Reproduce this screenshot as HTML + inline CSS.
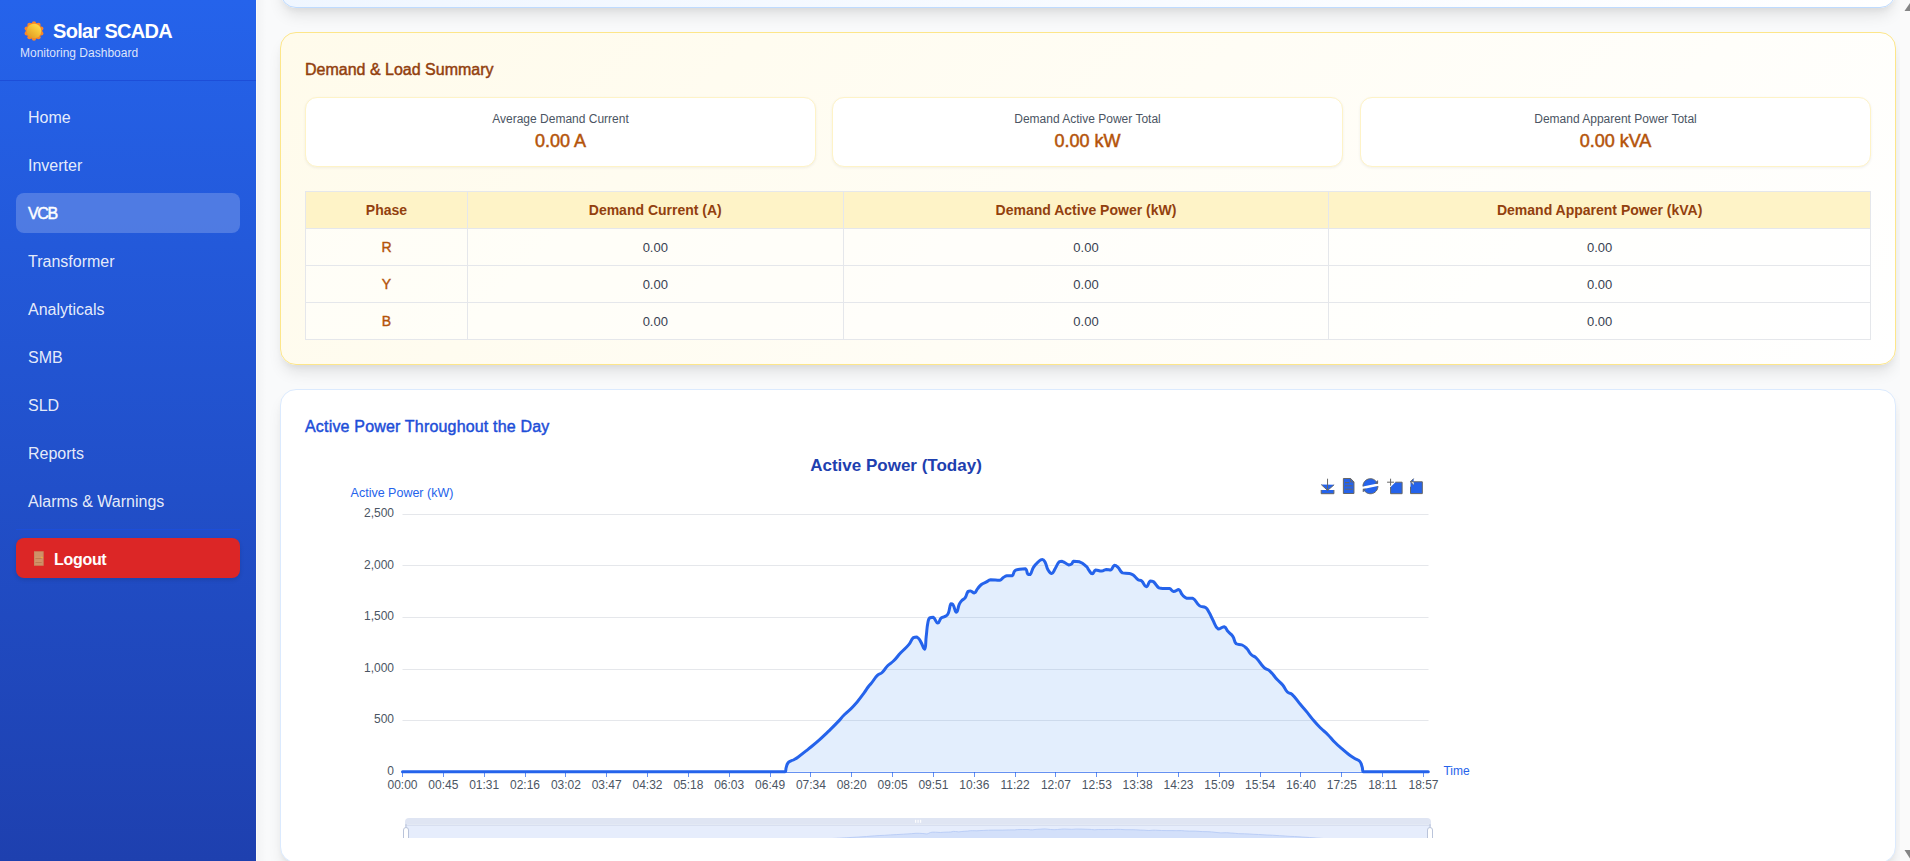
<!DOCTYPE html>
<html lang="en">
<head>
<meta charset="utf-8">
<title>Solar SCADA - VCB</title>
<style>
*{box-sizing:border-box;margin:0;padding:0}
html,body{width:1910px;height:861px;overflow:hidden}
body{font-family:"Liberation Sans",Arial,sans-serif;background:#f9fafb;position:relative;color:#1f2937}
.sidebar{position:absolute;left:0;top:0;width:256px;height:861px;background:linear-gradient(180deg,#2563eb 0%,#1e40af 100%);color:#fff}
.sb-head{position:absolute;left:0;top:0;width:256px;height:81px;border-bottom:1px solid #1d4ed8}
.sun{position:absolute;left:23.5px;top:21px;width:20px;height:20px}
.brand{position:absolute;left:53px;top:19px;font-size:20px;font-weight:700;line-height:24px;letter-spacing:-0.7px;white-space:nowrap;color:#fff}
.sub{position:absolute;left:20px;top:45px;font-size:12px;line-height:16px;color:rgba(255,255,255,0.85);white-space:nowrap}
.nav{position:absolute;left:16px;width:224px;height:40px;border-radius:8px;padding-left:12px;font-size:16px;line-height:42px;color:rgba(255,255,255,0.9);white-space:nowrap}
.nav.active{background:rgba(255,255,255,0.2);font-weight:400;-webkit-text-stroke:0.45px #fff;color:#fff;letter-spacing:-1.4px}
.sep{position:absolute;left:16px;top:529px;width:224px;height:1px;background:#1d4ed8}
.logout{position:absolute;left:16px;top:538px;width:224px;height:40px;border-radius:8px;background:#dc2626;box-shadow:0 2px 4px rgba(0,0,0,0.12)}
.logout .txt{position:absolute;left:38px;top:0;line-height:44px;font-size:16px;letter-spacing:-0.3px;font-weight:700;color:#fff}
.door{position:absolute;left:18.3px;top:13px;width:9.7px;height:15px}
.edge{position:absolute;left:256px;top:0;width:1px;height:861px;background:#fdfbf7}
.edgeshadow{position:absolute;left:257px;top:0;width:10px;height:861px;background:linear-gradient(90deg,rgba(0,0,0,0.025),rgba(0,0,0,0))}
.card{position:absolute;left:280px;width:1616px;border-radius:16px}
.topcard{top:-40px;height:48px;background:linear-gradient(135deg,#eff6ff 0%,#ffffff 100%);border:1px solid #bfdbfe;box-shadow:0 10px 15px -3px rgba(0,0,0,0.1),0 4px 6px -2px rgba(0,0,0,0.05)}
.demand{top:32px;height:333px;background:linear-gradient(135deg,#fffbeb 0%,#ffffff 100%);border:1px solid #fde68a;box-shadow:0 10px 15px -3px rgba(0,0,0,0.1),0 4px 6px -2px rgba(0,0,0,0.05)}
.chartcard{top:389px;height:474px;background:#fff;border:1px solid #dbeafe;box-shadow:0 10px 15px -3px rgba(0,0,0,0.1),0 4px 6px -2px rgba(0,0,0,0.05)}
.h3{position:absolute;left:24px;top:25px;font-size:16px;line-height:24px;font-weight:400;-webkit-text-stroke:0.45px currentColor;white-space:nowrap}
.demand .h3{color:#92400e;letter-spacing:0px}
.chartcard .h3{color:#1d4ed8;letter-spacing:0.18px}
.sc{position:absolute;top:64px;width:511px;height:70px;background:#fff;border:1px solid #fef3c7;border-radius:12px;box-shadow:0 1px 3px rgba(0,0,0,0.06);text-align:center}
.sc .lbl{position:absolute;left:0;right:0;top:13px;font-size:12px;line-height:16px;color:#4b5563}
.sc .val{position:absolute;left:0;right:0;top:30px;font-size:18px;line-height:26px;font-weight:400;-webkit-text-stroke:0.5px currentColor;color:#b45309}
table{position:absolute;left:24px;top:158px;width:1566px;border-collapse:collapse;background:rgba(255,255,255,0.5)}
th,td{border:1px solid #e5e7eb;height:37px;padding:0 8px;text-align:center;font-size:14px}
th{background:#fef3c7;color:#92400e;font-weight:700}
td{color:#374151;font-size:13px}
td.ph{color:#b45309;font-weight:400;-webkit-text-stroke:0.4px currentColor;font-size:14px}
.scroll{position:absolute;left:1900px;top:0;width:10px;height:861px;background:#fafafa;overflow:hidden}
</style>
</head>
<body>
<div class="sidebar">
  <div class="sb-head">
    <svg class="sun" viewBox="0 0 20 20"><defs><linearGradient id="sg" x1="0.8" y1="0.15" x2="0.2" y2="0.9"><stop offset="0" stop-color="#ffd944"/><stop offset="1" stop-color="#e49f24"/></linearGradient></defs><circle cx="10" cy="10" r="8.3" fill="#f7862a"/><circle cx="10.00" cy="2.30" r="2.1" fill="#f7862a"/><circle cx="5.47" cy="3.77" r="2.1" fill="#f7862a"/><circle cx="2.68" cy="7.62" r="2.1" fill="#f7862a"/><circle cx="2.68" cy="12.38" r="2.1" fill="#f7862a"/><circle cx="5.47" cy="16.23" r="2.1" fill="#f7862a"/><circle cx="10.00" cy="17.70" r="2.1" fill="#f7862a"/><circle cx="14.53" cy="16.23" r="2.1" fill="#f7862a"/><circle cx="17.32" cy="12.38" r="2.1" fill="#f7862a"/><circle cx="17.32" cy="7.62" r="2.1" fill="#f7862a"/><circle cx="14.53" cy="3.77" r="2.1" fill="#f7862a"/><circle cx="10" cy="10" r="7.3" fill="url(#sg)"/></svg>
    <div class="brand">Solar SCADA</div>
    <div class="sub">Monitoring Dashboard</div>
  </div>
  <div class="nav" style="top:97px">Home</div>
  <div class="nav" style="top:145px">Inverter</div>
  <div class="nav active" style="top:193px">VCB</div>
  <div class="nav" style="top:241px">Transformer</div>
  <div class="nav" style="top:289px">Analyticals</div>
  <div class="nav" style="top:337px">SMB</div>
  <div class="nav" style="top:385px">SLD</div>
  <div class="nav" style="top:433px">Reports</div>
  <div class="nav" style="top:481px">Alarms &amp; Warnings</div>
  <div class="sep"></div>
  <div class="logout"><svg class="door" viewBox="0 0 10 15"><rect x="0" y="0" width="10" height="15" fill="#c98a60"/><rect x="1" y="0.8" width="8" height="13.4" fill="#cf9168"/><rect x="1.5" y="6.8" width="6.5" height="0.9" fill="#b8734a"/><rect x="1.5" y="10.9" width="6.5" height="0.9" fill="#b8734a"/><rect x="1" y="5.8" width="7" height="0.8" fill="#dd9a6a"/><rect x="1" y="9.9" width="7" height="0.8" fill="#dd9a6a"/><circle cx="8.2" cy="6.4" r="0.8" fill="#f5b431"/></svg><span class="txt">Logout</span></div>
</div>
<div class="edge"></div>
<div class="edgeshadow"></div>

<div class="card topcard"></div>

<div class="card demand">
  <div class="h3">Demand &amp; Load Summary</div>
  <div class="sc" style="left:24px"><div class="lbl">Average Demand Current</div><div class="val">0.00 A</div></div>
  <div class="sc" style="left:551px"><div class="lbl">Demand Active Power Total</div><div class="val">0.00 kW</div></div>
  <div class="sc" style="left:1079px"><div class="lbl">Demand Apparent Power Total</div><div class="val">0.00 kVA</div></div>
  <table>
    <colgroup><col style="width:162px"><col style="width:376px"><col style="width:486px"><col style="width:542px"></colgroup>
    <tr><th>Phase</th><th>Demand Current (A)</th><th>Demand Active Power (kW)</th><th>Demand Apparent Power (kVA)</th></tr>
    <tr><td class="ph">R</td><td>0.00</td><td>0.00</td><td>0.00</td></tr>
    <tr><td class="ph">Y</td><td>0.00</td><td>0.00</td><td>0.00</td></tr>
    <tr><td class="ph">B</td><td>0.00</td><td>0.00</td><td>0.00</td></tr>
  </table>
</div>

<div class="card chartcard">
  <div class="h3">Active Power Throughout the Day</div>
</div>

<!--CHART-->
<svg class="chart" width="1614" height="400" viewBox="281 438 1614 400" style="position:absolute;left:281px;top:438px;overflow:hidden">
<text x="896" y="470.7" text-anchor="middle" font-family="Liberation Sans, Arial, sans-serif" font-size="17" font-weight="700" fill="#1e40af">Active Power (Today)</text>
<path d="M4.7,22.9L29.3,45.5L54.7,23.4M4.6,43.6L4.6,58L53.8,58L53.8,43.6M29.2,45.1L29.2,0" transform="translate(1320.00 478.70) scale(0.2586)" fill="#2563eb" stroke="#666" stroke-width="1" vector-effect="non-scaling-stroke"/>
<path d="M17.5,17.3H33 M17.5,17.3H33 M45.4,29.5h-28 M11.5,2v56H51V14.8L38.4,2H11.5z M38.4,2.2v12.7H51 M45.4,41.7h-28" transform="translate(1340.30 477.96) scale(0.2679)" fill="#2563eb" stroke="#666" stroke-width="1" vector-effect="non-scaling-stroke"/>
<path d="M3.8,33.4 M47,18.9h9.8V8.7 M56.3,20.1 C52.1,9,40.5,0.6,26.8,2.1C12.6,3.7,1.6,16.2,2.1,30.6 M13,41.1H3.1v10.2 M3.7,39.9c4.2,11.1,15.8,19.5,29.5,18 c14.2-1.6,25.2-14.1,24.7-28.5" transform="translate(1362.40 478.20) scale(0.2679)" fill="#2563eb" stroke="#666" stroke-width="1" vector-effect="non-scaling-stroke"/>
<path d="M0,13.5h26.9 M13.5,26.9V0 M32.1,13.5H58V58H13.5 V32.1" transform="translate(1387.10 478.70) scale(0.2586)" fill="#2563eb" stroke="#666" stroke-width="1" vector-effect="non-scaling-stroke"/>
<path d="M22,1.4L9.9,13.5l12.3,12.3 M10.3,13.5H54.9v44.6 H10.3v-26" transform="translate(1407.80 478.23) scale(0.2646)" fill="#2563eb" stroke="#666" stroke-width="1" vector-effect="non-scaling-stroke"/>
<text x="402" y="497" text-anchor="middle" font-family="Liberation Sans, Arial, sans-serif" font-size="12.5" fill="#2563eb">Active Power (kW)</text>
<line x1="402.5" y1="514.5" x2="1428.5" y2="514.5" stroke="#e5e7eb" stroke-width="1"/>
<line x1="402.5" y1="565.5" x2="1428.5" y2="565.5" stroke="#e5e7eb" stroke-width="1"/>
<line x1="402.5" y1="617.5" x2="1428.5" y2="617.5" stroke="#e5e7eb" stroke-width="1"/>
<line x1="402.5" y1="669.5" x2="1428.5" y2="669.5" stroke="#e5e7eb" stroke-width="1"/>
<line x1="402.5" y1="720.5" x2="1428.5" y2="720.5" stroke="#e5e7eb" stroke-width="1"/>
<text x="394" y="517.2" text-anchor="end" font-family="Liberation Sans, Arial, sans-serif" font-size="12" fill="#4b5563">2,500</text>
<text x="394" y="568.7" text-anchor="end" font-family="Liberation Sans, Arial, sans-serif" font-size="12" fill="#4b5563">2,000</text>
<text x="394" y="620.2" text-anchor="end" font-family="Liberation Sans, Arial, sans-serif" font-size="12" fill="#4b5563">1,500</text>
<text x="394" y="671.7" text-anchor="end" font-family="Liberation Sans, Arial, sans-serif" font-size="12" fill="#4b5563">1,000</text>
<text x="394" y="723.2" text-anchor="end" font-family="Liberation Sans, Arial, sans-serif" font-size="12" fill="#4b5563">500</text>
<text x="394" y="774.7" text-anchor="end" font-family="Liberation Sans, Arial, sans-serif" font-size="12" fill="#4b5563">0</text>
<path d="M402.5,771.8 C402.5,771.8 595.4,771.8 785.0,771.8 C786.2,771.8 785.5,769.6 786.2,767.5 C787.0,765.1 786.6,764.8 788.0,762.8 C789.0,761.4 789.4,761.6 791.0,760.8 C792.0,760.2 792.2,760.5 793.2,760.0 C795.6,758.7 795.7,758.8 797.9,757.2 C803.2,753.3 803.2,753.2 808.3,749.1 C813.6,744.8 813.7,744.9 818.8,740.4 C823.6,736.2 823.5,736.1 828.1,731.7 C832.8,727.1 832.9,727.1 837.4,722.4 C841.0,718.7 840.7,718.4 844.3,714.8 C848.8,710.3 849.4,710.8 853.6,706.1 C859.3,699.8 859.0,699.5 864.1,692.8 C866.4,689.7 866.2,689.6 868.5,686.5 C869.9,684.6 870.1,684.8 871.6,682.9 C874.6,679.2 874.1,678.7 877.4,675.4 C879.3,673.5 880.1,674.4 882.1,672.5 C885.4,669.4 884.7,668.7 887.9,665.5 C890.5,662.9 891.1,663.4 893.7,660.8 C897.5,657.0 897.1,656.6 900.7,652.7 C904.6,648.5 905.1,649.0 908.8,644.6 C911.5,641.4 910.6,640.3 913.4,637.6 C914.6,637.0 915.5,637.0 916.9,637.0 C919.0,638.1 919.0,638.8 920.4,641.1 C922.8,644.9 923.3,649.2 924.5,649.2 C926.2,647.9 925.4,642.9 926.2,636.5 C927.1,629.5 926.6,629.4 927.9,622.5 C928.4,620.1 928.2,619.4 929.7,617.9 C930.8,617.3 931.9,617.3 933.2,617.3 C935.9,619.1 935.6,622.9 937.8,623.1 C939.7,623.1 939.0,619.9 941.3,617.9 C943.1,616.4 943.9,617.4 945.9,616.1 C947.4,615.1 947.6,614.9 948.3,613.2 C950.1,608.8 949.0,607.4 950.9,603.8 C951.3,603.8 952.3,603.8 952.9,604.5 C955.1,607.9 954.8,612.2 956.4,612.2 C958.0,612.1 957.6,608.1 959.3,604.2 C960.2,602.3 960.2,602.2 961.6,600.7 C963.1,599.0 963.8,599.6 965.1,597.8 C967.0,595.0 966.1,594.1 968.0,591.5 C968.7,590.9 969.2,590.9 970.3,590.9 C972.4,591.4 972.7,592.9 974.4,592.9 C976.2,592.4 975.8,590.9 977.3,589.1 C979.3,586.7 979.0,586.4 981.4,584.5 C983.4,582.9 983.7,583.4 986.0,582.2 C988.4,581.0 988.2,580.2 990.7,579.8 C995.1,579.8 995.6,580.2 999.9,580.2 C1002.0,579.8 1001.5,578.7 1003.4,577.5 C1005.0,576.5 1005.0,576.2 1006.9,575.8 C1009.4,575.8 1010.2,575.8 1012.1,575.8 C1014.3,574.4 1012.9,572.4 1015.0,570.6 C1016.7,569.2 1017.3,569.6 1019.7,569.2 C1022.5,568.8 1023.5,568.8 1025.5,568.8 C1027.5,570.0 1026.2,572.0 1027.8,574.0 C1028.5,574.6 1029.5,574.6 1030.1,574.6 C1032.4,571.9 1031.4,570.5 1033.6,567.1 C1035.5,564.1 1035.7,564.1 1038.3,561.8 C1040.0,560.3 1040.4,559.5 1042.3,559.5 C1043.8,559.5 1044.1,560.4 1045.0,562.0 C1047.0,565.7 1046.0,566.4 1048.1,570.0 C1049.3,572.1 1050.0,573.5 1051.6,573.5 C1053.5,573.2 1053.5,571.3 1055.1,568.8 C1057.3,565.4 1056.6,564.6 1059.2,561.8 C1060.1,561.3 1060.8,561.3 1062.1,561.3 C1065.7,562.5 1065.5,563.9 1069.0,565.0 C1070.1,565.0 1070.4,565.0 1071.4,564.2 C1072.8,563.1 1072.1,561.8 1073.7,561.3 C1076.2,561.3 1076.9,561.3 1079.5,561.8 C1083.3,563.3 1083.4,563.8 1086.5,566.5 C1088.0,567.9 1087.5,568.4 1088.8,570.0 C1090.4,572.0 1090.6,573.8 1092.3,573.8 C1094.0,573.8 1093.6,570.6 1095.7,570.0 C1098.2,570.0 1098.7,571.1 1101.6,571.1 C1104.0,571.0 1103.8,569.7 1106.2,569.4 C1108.4,569.4 1109.0,570.0 1110.8,570.0 C1113.1,568.9 1112.2,566.2 1114.3,565.3 C1115.7,565.3 1116.4,565.8 1117.8,567.1 C1120.5,569.6 1119.5,571.2 1122.5,572.9 C1125.3,573.5 1126.0,572.9 1129.4,573.5 C1131.4,573.9 1131.5,573.9 1133.2,575.1 C1135.9,577.0 1135.4,577.8 1138.1,579.7 C1139.6,580.7 1140.2,579.7 1141.6,580.9 C1144.3,583.2 1144.1,586.7 1146.3,586.7 C1148.4,586.7 1147.9,582.7 1150.3,580.9 C1151.3,580.9 1152.1,580.9 1153.2,581.5 C1156.4,584.1 1155.6,585.6 1159.0,587.9 C1160.9,588.5 1161.3,588.4 1163.7,588.5 C1166.6,588.5 1166.8,588.5 1169.5,588.5 C1171.8,589.2 1171.4,591.1 1173.6,591.4 C1176.0,591.4 1176.8,589.6 1178.8,589.6 C1181.1,590.5 1180.2,592.5 1182.3,594.8 C1184.2,596.9 1184.3,597.4 1186.9,598.3 C1189.5,598.3 1190.4,598.3 1192.7,598.3 C1196.8,600.7 1195.7,603.0 1199.7,605.9 C1202.1,607.6 1203.1,606.0 1205.5,607.6 C1207.8,609.2 1207.5,609.8 1209.0,612.3 C1211.0,615.6 1210.6,615.8 1212.5,619.2 C1215.3,624.2 1214.6,626.7 1218.3,629.1 C1220.4,629.1 1221.7,626.7 1224.1,626.7 C1226.6,627.3 1226.0,629.3 1228.1,631.6 C1230.3,634.1 1231.0,633.6 1232.8,636.3 C1235.1,639.7 1233.6,641.3 1236.3,643.8 C1238.2,645.0 1239.5,643.8 1242.1,645.0 C1244.7,646.2 1244.7,646.4 1246.7,648.5 C1249.4,651.3 1248.7,652.1 1251.4,654.8 C1253.3,656.7 1254.1,655.8 1256.0,657.7 C1260.5,662.2 1259.6,663.2 1264.1,667.6 C1266.5,669.9 1267.4,668.9 1269.9,671.1 C1273.8,674.7 1273.3,675.3 1276.9,679.2 C1279.7,682.2 1280.1,681.8 1282.7,685.0 C1285.4,688.2 1284.5,689.1 1287.4,692.0 C1289.2,693.8 1290.2,692.6 1292.0,694.3 C1296.7,698.8 1296.2,699.4 1300.5,704.5 C1303.7,708.3 1303.8,708.2 1307.0,712.1 C1310.5,716.4 1310.3,716.6 1313.9,720.8 C1317.2,724.7 1317.3,724.7 1320.9,728.3 C1324.3,731.6 1324.6,731.3 1327.9,734.7 C1331.5,738.3 1331.2,738.7 1334.8,742.3 C1338.1,745.7 1338.2,745.6 1341.8,748.7 C1345.2,751.7 1345.2,751.8 1348.8,754.5 C1352.1,757.0 1352.2,756.9 1355.7,759.1 C1357.7,760.3 1358.4,759.7 1359.8,761.4 C1361.6,763.5 1361.1,764.0 1362.1,766.7 C1363.0,769.2 1362.1,771.6 1363.5,771.8 C1394.1,771.8 1428.3,771.8 1428.3,771.8 L1428.3,771.8 L402.5,771.8 Z" fill="rgba(80,150,245,0.16)" stroke="none"/>
<line x1="402.5" y1="772.5" x2="1428.5" y2="772.5" stroke="#2563eb" stroke-opacity="0.7" stroke-width="1"/>
<line x1="402.5" y1="772" x2="402.5" y2="777" stroke="#2563eb" stroke-opacity="0.7" stroke-width="1"/>
<line x1="443.5" y1="772" x2="443.5" y2="777" stroke="#2563eb" stroke-opacity="0.7" stroke-width="1"/>
<line x1="484.5" y1="772" x2="484.5" y2="777" stroke="#2563eb" stroke-opacity="0.7" stroke-width="1"/>
<line x1="525.5" y1="772" x2="525.5" y2="777" stroke="#2563eb" stroke-opacity="0.7" stroke-width="1"/>
<line x1="565.5" y1="772" x2="565.5" y2="777" stroke="#2563eb" stroke-opacity="0.7" stroke-width="1"/>
<line x1="606.5" y1="772" x2="606.5" y2="777" stroke="#2563eb" stroke-opacity="0.7" stroke-width="1"/>
<line x1="647.5" y1="772" x2="647.5" y2="777" stroke="#2563eb" stroke-opacity="0.7" stroke-width="1"/>
<line x1="688.5" y1="772" x2="688.5" y2="777" stroke="#2563eb" stroke-opacity="0.7" stroke-width="1"/>
<line x1="729.5" y1="772" x2="729.5" y2="777" stroke="#2563eb" stroke-opacity="0.7" stroke-width="1"/>
<line x1="770.5" y1="772" x2="770.5" y2="777" stroke="#2563eb" stroke-opacity="0.7" stroke-width="1"/>
<line x1="810.5" y1="772" x2="810.5" y2="777" stroke="#2563eb" stroke-opacity="0.7" stroke-width="1"/>
<line x1="851.5" y1="772" x2="851.5" y2="777" stroke="#2563eb" stroke-opacity="0.7" stroke-width="1"/>
<line x1="892.5" y1="772" x2="892.5" y2="777" stroke="#2563eb" stroke-opacity="0.7" stroke-width="1"/>
<line x1="933.5" y1="772" x2="933.5" y2="777" stroke="#2563eb" stroke-opacity="0.7" stroke-width="1"/>
<line x1="974.5" y1="772" x2="974.5" y2="777" stroke="#2563eb" stroke-opacity="0.7" stroke-width="1"/>
<line x1="1015.5" y1="772" x2="1015.5" y2="777" stroke="#2563eb" stroke-opacity="0.7" stroke-width="1"/>
<line x1="1055.5" y1="772" x2="1055.5" y2="777" stroke="#2563eb" stroke-opacity="0.7" stroke-width="1"/>
<line x1="1096.5" y1="772" x2="1096.5" y2="777" stroke="#2563eb" stroke-opacity="0.7" stroke-width="1"/>
<line x1="1137.5" y1="772" x2="1137.5" y2="777" stroke="#2563eb" stroke-opacity="0.7" stroke-width="1"/>
<line x1="1178.5" y1="772" x2="1178.5" y2="777" stroke="#2563eb" stroke-opacity="0.7" stroke-width="1"/>
<line x1="1219.5" y1="772" x2="1219.5" y2="777" stroke="#2563eb" stroke-opacity="0.7" stroke-width="1"/>
<line x1="1260.5" y1="772" x2="1260.5" y2="777" stroke="#2563eb" stroke-opacity="0.7" stroke-width="1"/>
<line x1="1300.5" y1="772" x2="1300.5" y2="777" stroke="#2563eb" stroke-opacity="0.7" stroke-width="1"/>
<line x1="1341.5" y1="772" x2="1341.5" y2="777" stroke="#2563eb" stroke-opacity="0.7" stroke-width="1"/>
<line x1="1382.5" y1="772" x2="1382.5" y2="777" stroke="#2563eb" stroke-opacity="0.7" stroke-width="1"/>
<line x1="1423.5" y1="772" x2="1423.5" y2="777" stroke="#2563eb" stroke-opacity="0.7" stroke-width="1"/>
<path d="M402.5,771.8 C402.5,771.8 595.4,771.8 785.0,771.8 C786.2,771.8 785.5,769.6 786.2,767.5 C787.0,765.1 786.6,764.8 788.0,762.8 C789.0,761.4 789.4,761.6 791.0,760.8 C792.0,760.2 792.2,760.5 793.2,760.0 C795.6,758.7 795.7,758.8 797.9,757.2 C803.2,753.3 803.2,753.2 808.3,749.1 C813.6,744.8 813.7,744.9 818.8,740.4 C823.6,736.2 823.5,736.1 828.1,731.7 C832.8,727.1 832.9,727.1 837.4,722.4 C841.0,718.7 840.7,718.4 844.3,714.8 C848.8,710.3 849.4,710.8 853.6,706.1 C859.3,699.8 859.0,699.5 864.1,692.8 C866.4,689.7 866.2,689.6 868.5,686.5 C869.9,684.6 870.1,684.8 871.6,682.9 C874.6,679.2 874.1,678.7 877.4,675.4 C879.3,673.5 880.1,674.4 882.1,672.5 C885.4,669.4 884.7,668.7 887.9,665.5 C890.5,662.9 891.1,663.4 893.7,660.8 C897.5,657.0 897.1,656.6 900.7,652.7 C904.6,648.5 905.1,649.0 908.8,644.6 C911.5,641.4 910.6,640.3 913.4,637.6 C914.6,637.0 915.5,637.0 916.9,637.0 C919.0,638.1 919.0,638.8 920.4,641.1 C922.8,644.9 923.3,649.2 924.5,649.2 C926.2,647.9 925.4,642.9 926.2,636.5 C927.1,629.5 926.6,629.4 927.9,622.5 C928.4,620.1 928.2,619.4 929.7,617.9 C930.8,617.3 931.9,617.3 933.2,617.3 C935.9,619.1 935.6,622.9 937.8,623.1 C939.7,623.1 939.0,619.9 941.3,617.9 C943.1,616.4 943.9,617.4 945.9,616.1 C947.4,615.1 947.6,614.9 948.3,613.2 C950.1,608.8 949.0,607.4 950.9,603.8 C951.3,603.8 952.3,603.8 952.9,604.5 C955.1,607.9 954.8,612.2 956.4,612.2 C958.0,612.1 957.6,608.1 959.3,604.2 C960.2,602.3 960.2,602.2 961.6,600.7 C963.1,599.0 963.8,599.6 965.1,597.8 C967.0,595.0 966.1,594.1 968.0,591.5 C968.7,590.9 969.2,590.9 970.3,590.9 C972.4,591.4 972.7,592.9 974.4,592.9 C976.2,592.4 975.8,590.9 977.3,589.1 C979.3,586.7 979.0,586.4 981.4,584.5 C983.4,582.9 983.7,583.4 986.0,582.2 C988.4,581.0 988.2,580.2 990.7,579.8 C995.1,579.8 995.6,580.2 999.9,580.2 C1002.0,579.8 1001.5,578.7 1003.4,577.5 C1005.0,576.5 1005.0,576.2 1006.9,575.8 C1009.4,575.8 1010.2,575.8 1012.1,575.8 C1014.3,574.4 1012.9,572.4 1015.0,570.6 C1016.7,569.2 1017.3,569.6 1019.7,569.2 C1022.5,568.8 1023.5,568.8 1025.5,568.8 C1027.5,570.0 1026.2,572.0 1027.8,574.0 C1028.5,574.6 1029.5,574.6 1030.1,574.6 C1032.4,571.9 1031.4,570.5 1033.6,567.1 C1035.5,564.1 1035.7,564.1 1038.3,561.8 C1040.0,560.3 1040.4,559.5 1042.3,559.5 C1043.8,559.5 1044.1,560.4 1045.0,562.0 C1047.0,565.7 1046.0,566.4 1048.1,570.0 C1049.3,572.1 1050.0,573.5 1051.6,573.5 C1053.5,573.2 1053.5,571.3 1055.1,568.8 C1057.3,565.4 1056.6,564.6 1059.2,561.8 C1060.1,561.3 1060.8,561.3 1062.1,561.3 C1065.7,562.5 1065.5,563.9 1069.0,565.0 C1070.1,565.0 1070.4,565.0 1071.4,564.2 C1072.8,563.1 1072.1,561.8 1073.7,561.3 C1076.2,561.3 1076.9,561.3 1079.5,561.8 C1083.3,563.3 1083.4,563.8 1086.5,566.5 C1088.0,567.9 1087.5,568.4 1088.8,570.0 C1090.4,572.0 1090.6,573.8 1092.3,573.8 C1094.0,573.8 1093.6,570.6 1095.7,570.0 C1098.2,570.0 1098.7,571.1 1101.6,571.1 C1104.0,571.0 1103.8,569.7 1106.2,569.4 C1108.4,569.4 1109.0,570.0 1110.8,570.0 C1113.1,568.9 1112.2,566.2 1114.3,565.3 C1115.7,565.3 1116.4,565.8 1117.8,567.1 C1120.5,569.6 1119.5,571.2 1122.5,572.9 C1125.3,573.5 1126.0,572.9 1129.4,573.5 C1131.4,573.9 1131.5,573.9 1133.2,575.1 C1135.9,577.0 1135.4,577.8 1138.1,579.7 C1139.6,580.7 1140.2,579.7 1141.6,580.9 C1144.3,583.2 1144.1,586.7 1146.3,586.7 C1148.4,586.7 1147.9,582.7 1150.3,580.9 C1151.3,580.9 1152.1,580.9 1153.2,581.5 C1156.4,584.1 1155.6,585.6 1159.0,587.9 C1160.9,588.5 1161.3,588.4 1163.7,588.5 C1166.6,588.5 1166.8,588.5 1169.5,588.5 C1171.8,589.2 1171.4,591.1 1173.6,591.4 C1176.0,591.4 1176.8,589.6 1178.8,589.6 C1181.1,590.5 1180.2,592.5 1182.3,594.8 C1184.2,596.9 1184.3,597.4 1186.9,598.3 C1189.5,598.3 1190.4,598.3 1192.7,598.3 C1196.8,600.7 1195.7,603.0 1199.7,605.9 C1202.1,607.6 1203.1,606.0 1205.5,607.6 C1207.8,609.2 1207.5,609.8 1209.0,612.3 C1211.0,615.6 1210.6,615.8 1212.5,619.2 C1215.3,624.2 1214.6,626.7 1218.3,629.1 C1220.4,629.1 1221.7,626.7 1224.1,626.7 C1226.6,627.3 1226.0,629.3 1228.1,631.6 C1230.3,634.1 1231.0,633.6 1232.8,636.3 C1235.1,639.7 1233.6,641.3 1236.3,643.8 C1238.2,645.0 1239.5,643.8 1242.1,645.0 C1244.7,646.2 1244.7,646.4 1246.7,648.5 C1249.4,651.3 1248.7,652.1 1251.4,654.8 C1253.3,656.7 1254.1,655.8 1256.0,657.7 C1260.5,662.2 1259.6,663.2 1264.1,667.6 C1266.5,669.9 1267.4,668.9 1269.9,671.1 C1273.8,674.7 1273.3,675.3 1276.9,679.2 C1279.7,682.2 1280.1,681.8 1282.7,685.0 C1285.4,688.2 1284.5,689.1 1287.4,692.0 C1289.2,693.8 1290.2,692.6 1292.0,694.3 C1296.7,698.8 1296.2,699.4 1300.5,704.5 C1303.7,708.3 1303.8,708.2 1307.0,712.1 C1310.5,716.4 1310.3,716.6 1313.9,720.8 C1317.2,724.7 1317.3,724.7 1320.9,728.3 C1324.3,731.6 1324.6,731.3 1327.9,734.7 C1331.5,738.3 1331.2,738.7 1334.8,742.3 C1338.1,745.7 1338.2,745.6 1341.8,748.7 C1345.2,751.7 1345.2,751.8 1348.8,754.5 C1352.1,757.0 1352.2,756.9 1355.7,759.1 C1357.7,760.3 1358.4,759.7 1359.8,761.4 C1361.6,763.5 1361.1,764.0 1362.1,766.7 C1363.0,769.2 1362.1,771.6 1363.5,771.8 C1394.1,771.8 1428.3,771.8 1428.3,771.8" fill="none" stroke="#2563eb" stroke-width="3" stroke-linejoin="round" stroke-linecap="round"/>
<text x="402.5" y="789" text-anchor="middle" font-family="Liberation Sans, Arial, sans-serif" font-size="12" fill="#4b5563">00:00</text>
<text x="443.3" y="789" text-anchor="middle" font-family="Liberation Sans, Arial, sans-serif" font-size="12" fill="#4b5563">00:45</text>
<text x="484.2" y="789" text-anchor="middle" font-family="Liberation Sans, Arial, sans-serif" font-size="12" fill="#4b5563">01:31</text>
<text x="525.0" y="789" text-anchor="middle" font-family="Liberation Sans, Arial, sans-serif" font-size="12" fill="#4b5563">02:16</text>
<text x="565.9" y="789" text-anchor="middle" font-family="Liberation Sans, Arial, sans-serif" font-size="12" fill="#4b5563">03:02</text>
<text x="606.7" y="789" text-anchor="middle" font-family="Liberation Sans, Arial, sans-serif" font-size="12" fill="#4b5563">03:47</text>
<text x="647.5" y="789" text-anchor="middle" font-family="Liberation Sans, Arial, sans-serif" font-size="12" fill="#4b5563">04:32</text>
<text x="688.4" y="789" text-anchor="middle" font-family="Liberation Sans, Arial, sans-serif" font-size="12" fill="#4b5563">05:18</text>
<text x="729.2" y="789" text-anchor="middle" font-family="Liberation Sans, Arial, sans-serif" font-size="12" fill="#4b5563">06:03</text>
<text x="770.1" y="789" text-anchor="middle" font-family="Liberation Sans, Arial, sans-serif" font-size="12" fill="#4b5563">06:49</text>
<text x="810.9" y="789" text-anchor="middle" font-family="Liberation Sans, Arial, sans-serif" font-size="12" fill="#4b5563">07:34</text>
<text x="851.7" y="789" text-anchor="middle" font-family="Liberation Sans, Arial, sans-serif" font-size="12" fill="#4b5563">08:20</text>
<text x="892.6" y="789" text-anchor="middle" font-family="Liberation Sans, Arial, sans-serif" font-size="12" fill="#4b5563">09:05</text>
<text x="933.4" y="789" text-anchor="middle" font-family="Liberation Sans, Arial, sans-serif" font-size="12" fill="#4b5563">09:51</text>
<text x="974.3" y="789" text-anchor="middle" font-family="Liberation Sans, Arial, sans-serif" font-size="12" fill="#4b5563">10:36</text>
<text x="1015.1" y="789" text-anchor="middle" font-family="Liberation Sans, Arial, sans-serif" font-size="12" fill="#4b5563">11:22</text>
<text x="1055.9" y="789" text-anchor="middle" font-family="Liberation Sans, Arial, sans-serif" font-size="12" fill="#4b5563">12:07</text>
<text x="1096.8" y="789" text-anchor="middle" font-family="Liberation Sans, Arial, sans-serif" font-size="12" fill="#4b5563">12:53</text>
<text x="1137.6" y="789" text-anchor="middle" font-family="Liberation Sans, Arial, sans-serif" font-size="12" fill="#4b5563">13:38</text>
<text x="1178.5" y="789" text-anchor="middle" font-family="Liberation Sans, Arial, sans-serif" font-size="12" fill="#4b5563">14:23</text>
<text x="1219.3" y="789" text-anchor="middle" font-family="Liberation Sans, Arial, sans-serif" font-size="12" fill="#4b5563">15:09</text>
<text x="1260.1" y="789" text-anchor="middle" font-family="Liberation Sans, Arial, sans-serif" font-size="12" fill="#4b5563">15:54</text>
<text x="1301.0" y="789" text-anchor="middle" font-family="Liberation Sans, Arial, sans-serif" font-size="12" fill="#4b5563">16:40</text>
<text x="1341.8" y="789" text-anchor="middle" font-family="Liberation Sans, Arial, sans-serif" font-size="12" fill="#4b5563">17:25</text>
<text x="1382.7" y="789" text-anchor="middle" font-family="Liberation Sans, Arial, sans-serif" font-size="12" fill="#4b5563">18:11</text>
<text x="1423.5" y="789" text-anchor="middle" font-family="Liberation Sans, Arial, sans-serif" font-size="12" fill="#4b5563">18:57</text>
<text x="1443.4" y="775" font-family="Liberation Sans, Arial, sans-serif" font-size="12" fill="#2563eb">Time</text>
<path d="M405,822 Q405,818 409,818 L1427,818 Q1431,818 1431,822 L1431,824.5 L405,824.5 Z" fill="#dfe5f3"/>
<rect x="405" y="824.5" width="1026" height="1.5" fill="#d8dff0"/>
<rect x="405" y="826" width="1026" height="14" fill="#e6edfc"/>
<path d="M405.0,840.9 L787.5,840.9 L788.7,840.7 L790.5,840.4 L793.5,840.3 L795.7,840.2 L800.4,840.1 L810.8,839.6 L821.3,839.1 L830.6,838.6 L839.9,838.1 L846.8,837.7 L856.1,837.2 L866.6,836.5 L871.0,836.1 L874.1,835.9 L879.9,835.5 L884.6,835.3 L890.4,834.9 L896.2,834.6 L903.2,834.2 L911.3,833.7 L915.9,833.3 L919.4,833.3 L922.9,833.5 L927.0,834.0 L928.7,833.3 L930.4,832.5 L932.2,832.2 L935.7,832.2 L940.3,832.5 L943.8,832.2 L948.4,832.1 L950.8,832.0 L953.4,831.4 L955.4,831.5 L958.9,831.9 L961.8,831.5 L964.1,831.3 L967.6,831.1 L970.5,830.7 L972.8,830.7 L976.9,830.8 L979.8,830.6 L983.9,830.4 L988.5,830.2 L993.2,830.1 L1002.4,830.1 L1005.9,830.0 L1009.4,829.9 L1014.6,829.9 L1017.5,829.6 L1022.2,829.5 L1028.0,829.5 L1030.3,829.8 L1032.6,829.8 L1036.1,829.4 L1040.8,829.1 L1044.8,828.9 L1047.5,829.1 L1050.6,829.5 L1054.1,829.7 L1057.6,829.5 L1061.7,829.1 L1064.6,829.0 L1071.5,829.3 L1073.9,829.2 L1076.2,829.0 L1082.0,829.1 L1089.0,829.3 L1091.3,829.5 L1094.8,829.8 L1098.2,829.5 L1104.1,829.6 L1108.7,829.5 L1113.3,829.5 L1116.8,829.3 L1120.3,829.4 L1125.0,829.7 L1131.9,829.7 L1135.7,829.8 L1140.6,830.1 L1144.1,830.2 L1148.8,830.5 L1152.8,830.2 L1155.7,830.2 L1161.5,830.5 L1166.2,830.6 L1172.0,830.6 L1176.1,830.7 L1181.3,830.6 L1184.8,830.9 L1189.4,831.1 L1195.2,831.1 L1202.2,831.6 L1208.0,831.7 L1211.5,831.9 L1215.0,832.3 L1220.8,832.9 L1226.6,832.7 L1230.6,833.0 L1235.3,833.3 L1238.8,833.7 L1244.6,833.8 L1249.2,834.0 L1253.9,834.3 L1258.5,834.5 L1266.6,835.0 L1272.4,835.2 L1279.4,835.7 L1285.2,836.0 L1289.9,836.4 L1294.5,836.5 L1303.0,837.1 L1309.5,837.5 L1316.4,838.0 L1323.4,838.5 L1330.4,838.8 L1337.3,839.2 L1344.3,839.6 L1351.3,839.9 L1358.2,840.2 L1362.3,840.3 L1364.6,840.6 L1366.0,840.9 L1430.8,840.9 L1431,845 L405,845 Z" fill="#d3e0fa"/>
<path d="M405.0,840.9 L787.5,840.9 L788.7,840.7 L790.5,840.4 L793.5,840.3 L795.7,840.2 L800.4,840.1 L810.8,839.6 L821.3,839.1 L830.6,838.6 L839.9,838.1 L846.8,837.7 L856.1,837.2 L866.6,836.5 L871.0,836.1 L874.1,835.9 L879.9,835.5 L884.6,835.3 L890.4,834.9 L896.2,834.6 L903.2,834.2 L911.3,833.7 L915.9,833.3 L919.4,833.3 L922.9,833.5 L927.0,834.0 L928.7,833.3 L930.4,832.5 L932.2,832.2 L935.7,832.2 L940.3,832.5 L943.8,832.2 L948.4,832.1 L950.8,832.0 L953.4,831.4 L955.4,831.5 L958.9,831.9 L961.8,831.5 L964.1,831.3 L967.6,831.1 L970.5,830.7 L972.8,830.7 L976.9,830.8 L979.8,830.6 L983.9,830.4 L988.5,830.2 L993.2,830.1 L1002.4,830.1 L1005.9,830.0 L1009.4,829.9 L1014.6,829.9 L1017.5,829.6 L1022.2,829.5 L1028.0,829.5 L1030.3,829.8 L1032.6,829.8 L1036.1,829.4 L1040.8,829.1 L1044.8,828.9 L1047.5,829.1 L1050.6,829.5 L1054.1,829.7 L1057.6,829.5 L1061.7,829.1 L1064.6,829.0 L1071.5,829.3 L1073.9,829.2 L1076.2,829.0 L1082.0,829.1 L1089.0,829.3 L1091.3,829.5 L1094.8,829.8 L1098.2,829.5 L1104.1,829.6 L1108.7,829.5 L1113.3,829.5 L1116.8,829.3 L1120.3,829.4 L1125.0,829.7 L1131.9,829.7 L1135.7,829.8 L1140.6,830.1 L1144.1,830.2 L1148.8,830.5 L1152.8,830.2 L1155.7,830.2 L1161.5,830.5 L1166.2,830.6 L1172.0,830.6 L1176.1,830.7 L1181.3,830.6 L1184.8,830.9 L1189.4,831.1 L1195.2,831.1 L1202.2,831.6 L1208.0,831.7 L1211.5,831.9 L1215.0,832.3 L1220.8,832.9 L1226.6,832.7 L1230.6,833.0 L1235.3,833.3 L1238.8,833.7 L1244.6,833.8 L1249.2,834.0 L1253.9,834.3 L1258.5,834.5 L1266.6,835.0 L1272.4,835.2 L1279.4,835.7 L1285.2,836.0 L1289.9,836.4 L1294.5,836.5 L1303.0,837.1 L1309.5,837.5 L1316.4,838.0 L1323.4,838.5 L1330.4,838.8 L1337.3,839.2 L1344.3,839.6 L1351.3,839.9 L1358.2,840.2 L1362.3,840.3 L1364.6,840.6 L1366.0,840.9 L1430.8,840.9" fill="none" stroke="#b3c8f5" stroke-width="0.8"/>
<g fill="#ffffff" opacity="0.9"><rect x="915" y="819.8" width="1.2" height="3"/><rect x="917.5" y="819.8" width="1.2" height="3"/><rect x="920" y="819.8" width="1.2" height="3"/></g>
<path d="M403.5,840 L403.5,830 Q403.5,827.5 406.0,827.5 Q408.5,827.5 408.5,830 L408.5,840" fill="#ffffff" stroke="#bac4da" stroke-width="1"/>
<line x1="406.0" y1="824" x2="406.0" y2="827.5" stroke="#bac4da" stroke-width="1"/>
<path d="M1427.5,840 L1427.5,830 Q1427.5,827.5 1430.0,827.5 Q1432.5,827.5 1432.5,830 L1432.5,840" fill="#ffffff" stroke="#bac4da" stroke-width="1"/>
<line x1="1430.0" y1="824" x2="1430.0" y2="827.5" stroke="#bac4da" stroke-width="1"/>
</svg>
<!--/CHART-->

<div class="scroll"><svg width="10" height="861" style="position:absolute;left:0;top:0"><polygon points="4.5,11 16,11 10,3" fill="#858585"/><polygon points="4.5,850 16,850 10,858.5" fill="#858585"/></svg></div>
</body>
</html>
